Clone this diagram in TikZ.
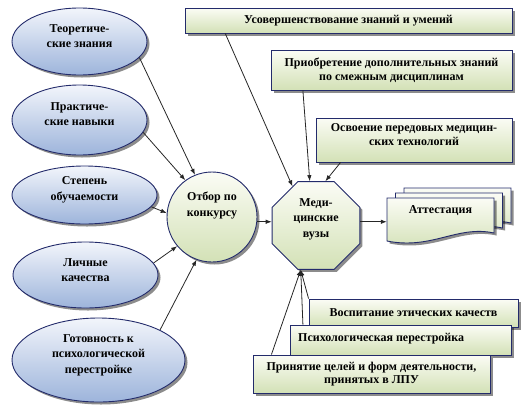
\documentclass[tikz,border=0pt]{standalone}
\usepackage{fontspec}
\setmainfont{Liberation Serif}
\usetikzlibrary{shapes.geometric,shadows,arrows.meta,calc}
\definecolor{navy}{HTML}{232B6B}
\definecolor{eltop}{HTML}{F2F5FB}
\definecolor{elbot}{HTML}{9DB4DB}
\definecolor{grtop}{HTML}{FBFCF5}
\definecolor{grbot}{HTML}{D3E1B6}
\begin{document}
\begin{tikzpicture}[x=1pt,y=-1pt,
  font=\fontsize{12}{15.5}\selectfont\bfseries,
  shad/.style={drop shadow={shadow xshift=2.5pt,shadow yshift=-2.5pt,fill=black,opacity=0.45}},
  ell/.style={ellipse,draw=navy,line width=0.9pt,top color=eltop,bottom color=elbot,shad,inner sep=0},
  grn/.style={draw=navy,line width=0.9pt,top color=grtop,bottom color=grbot,shad},
  box/.style={rectangle,grn,inner sep=2pt,align=center,font=\fontsize{12}{13.5}\selectfont\bfseries},
  txt/.style={align=center,inner sep=0},
  btxt/.style={align=center,inner sep=0,font=\fontsize{12}{13.5}\selectfont\bfseries},
  arr/.style={-{Latex[length=6pt,width=4.5pt]},line width=0.8pt,black!85},
]
\useasboundingbox (0,0) rectangle (525,405);

% ellipses
\node[ell,minimum width=135pt,minimum height=67pt] (e1) at (79.5,41.5) {};
\node[txt] (t1) at (79.5,36) {Теоретиче-\\ские знания};
\node[ell,minimum width=135pt,minimum height=70pt] (e2) at (79.5,120) {};
\node[txt] (t2) at (79.5,114) {Практиче-\\ские навыки};
\node[ell,minimum width=145pt,minimum height=58pt] (e3) at (84.5,195) {};
\node[txt] (t3) at (84.5,190) {Степень\\обучаемости};
\node[ell,minimum width=145pt,minimum height=66pt] (e4) at (85.5,275) {};
\node[txt] (t4) at (85.5,270) {Личные\\качества};
\node[ell,minimum width=173pt,minimum height=84pt] (e5) at (98.5,360) {};
\node[txt] (t5) at (98.5,355) {Готовность к\\психологической\\перестройке};

% circle
\node[circle,grn,minimum size=90pt,inner sep=0] (circ) at (212,217) {};
\node[txt] (tc) at (212,205.5) {Отбор по\\конкурсу};

% octagon
\node[regular polygon,regular polygon sides=8,grn,minimum size=95pt,inner sep=0] (oct) at (316,225.5) {};
\node[txt] (to) at (316,219) {Меди-\\цинские\\вузы};

% top boxes
\node[box,minimum width=327pt,minimum height=25pt] (r1) at (348.5,20.5) {Усовершенствование знаний и умений};
\node[box,minimum width=241pt,minimum height=40pt] (r2) at (391.5,70) {Приобретение дополнительных знаний\\по смежным дисциплинам};
\node[box,minimum width=196pt,minimum height=44pt] (r3) at (414,140) {};
\node[btxt] (t6) at (414,134.5) {Освоение передовых медицин-\\ских технологий};

% bottom boxes
\node[box,minimum width=209pt,minimum height=28pt] (r4) at (413.5,313) {Воспитание этических качеств};
\node[box,minimum width=221pt,minimum height=30pt] (r5) at (400.5,340) {};
\node[btxt,anchor=west] (t7) at (298,339) {Психологическая перестройка};
\node[box,minimum width=237pt,minimum height=38pt] (r6) at (371.5,374) {Принятие целей и форм деятельности,\\принятых в ЛПУ};

% attestation (document stack)
\foreach \ox/\oy in {404/188,395.5/193,387/198}{
  \begin{scope}[shift={(\ox,\oy)}]
    \path[grn] (0,0) -- (107,0) -- (107,35) .. controls (70,27) and (45,52) .. (0,43) -- cycle;
  \end{scope}
}
\node[minimum width=107pt,minimum height=44pt,inner sep=0] (att) at (440.5,220) {};
\node[txt] (ta) at (440.5,210.5) {Аттестация};

% connectors
\draw[arr] (e1.-15) -- (circ.112);
\draw[arr] (e2.-11) -- (circ.126);
\draw[arr] (e3.-10) -- (circ.175);
\draw[arr] (e4.10) -- (circ.220);
\draw[arr] (e5.26) -- (circ.250);
\draw[arr] (circ.-6) -- (circ.-6 -| oct.west);
\draw[arr] (circ.-6 -| oct.east) -- (circ.-6 -| att.west);
\draw[arr] (r1.-174) -- (oct.121);
\draw[arr] (r2.-167) -- (oct.98);
\draw[arr] (r3.-163) -- (oct.78);
\draw[arr] (r4.north west) -- (oct.251);
\draw[arr] (r5.171) -- (oct.251);
\draw[arr] (r6.169) -- (oct.251);
\end{tikzpicture}
\end{document}
